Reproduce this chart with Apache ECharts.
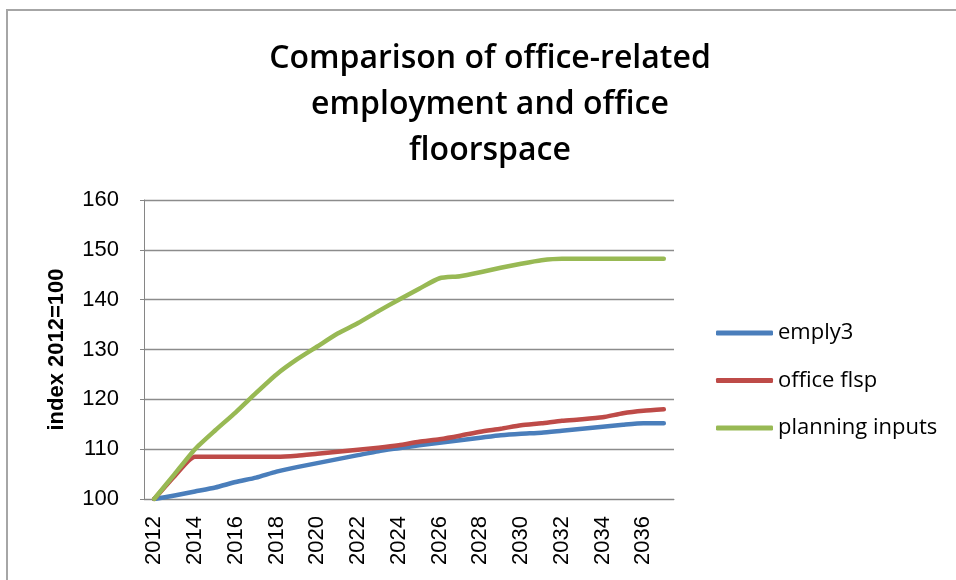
<!DOCTYPE html>
<html>
<head>
<meta charset="utf-8">
<script src="https://cdn.jsdelivr.net/npm/echarts@6/dist/echarts.min.js"></script>
<style>
  html, body { margin: 0; padding: 0; background: #fff; }
  #chart { width: 956px; height: 580px; }
</style>
</head>
<body>
<div id="chart"></div>
<script>
// Years on the category axis
const years = ['2012','2013','2014','2015','2016','2017','2018','2019','2020','2021','2022','2023','2024',
               '2025','2026','2027','2028','2029','2030','2031','2032','2033','2034','2035','2036','2037'];

// Index values (2012 = 100)
const emply3 = [100, 100.7, 101.5, 102.3, 103.4, 104.3, 105.5, 106.4, 107.2, 108.0, 108.8, 109.6, 110.2,
                110.8, 111.3, 111.8, 112.3, 112.8, 113.1, 113.3, 113.7, 114.1, 114.5, 114.9, 115.2, 115.2];
const officeFlsp = [100, 104.6, 108.5, 108.5, 108.5, 108.5, 108.5, 108.7, 109.1, 109.5, 109.9, 110.3, 110.8,
                    111.5, 112.0, 112.7, 113.5, 114.1, 114.8, 115.2, 115.7, 116.0, 116.4, 117.2, 117.7, 118.0];
const planningInputs = [100, 105.0, 110.0, 113.8, 117.4, 121.3, 125.0, 128.0, 130.6, 133.2, 135.3, 137.7, 140.0,
                        142.2, 144.3, 144.7, 145.5, 146.4, 147.2, 147.9, 148.2, 148.2, 148.2, 148.2, 148.2, 148.2];

// Value axis ticks
const yTicks = [100, 110, 120, 130, 140, 150, 160];

const seriesNames = ['emply3', 'office flsp', 'planning inputs'];
const seriesColors = ['#4a7ebb', '#be4b48', '#98b954'];
const seriesData = [emply3, officeFlsp, planningInputs];

const chart = echarts.init(document.getElementById('chart'), null, { renderer: 'canvas' });

chart.setOption({
  backgroundColor: '#ffffff',
  animation: false,
  graphic: [{
    type: 'rect',
    shape: { x: 7, y: 10, width: 1000, height: 700 },
    style: { fill: 'none', stroke: '#a6a6a6', lineWidth: 2 },
    silent: true,
    z: -1
  }],
  title: {
    text: 'Comparison of office-related\nemployment and office\nfloorspace',
    left: 485,
    top: 31,
    textAlign: 'center',
    textStyle: {
      fontFamily: 'Open Sans',
      fontWeight: 600,
      fontSize: 32,
      lineHeight: 46,
      color: '#000'
    }
  },
  legend: {
    orient: 'vertical',
    left: 711,
    top: 317,
    itemWidth: 57,
    itemHeight: 5,
    itemGap: 25.5,
    icon: 'roundRect',
    data: seriesNames,
    textStyle: {
      fontFamily: 'Open Sans',
      fontSize: 22,
      color: '#000'
    }
  },
  grid: {
    left: 144,
    right: 282,
    top: 200,
    bottom: 81,
    containLabel: false
  },
  xAxis: {
    type: 'category',
    data: years,
    boundaryGap: true,
    axisLine: { show: true, lineStyle: { color: '#868686', width: 1 } },
    axisTick: { show: false },
    axisLabel: {
      interval: 1,
      rotate: 90,
      margin: 17,
      fontFamily: 'Liberation Sans',
      fontSize: 22,
      color: '#000'
    },
    splitLine: { show: false }
  },
  yAxis: {
    type: 'value',
    min: yTicks[0],
    max: yTicks[yTicks.length - 1],
    interval: 10,
    name: 'index 2012=100',
    nameLocation: 'middle',
    nameGap: 76,
    nameRotate: 90,
    nameTextStyle: {
      fontFamily: 'Liberation Sans',
      fontWeight: 'bold',
      fontSize: 22,
      color: '#000'
    },
    axisLine: { show: true, lineStyle: { color: '#868686', width: 1 } },
    axisTick: { show: true, length: 4, lineStyle: { color: '#868686' } },
    axisLabel: {
      margin: 25,
      fontFamily: 'Liberation Sans',
      fontSize: 22,
      color: '#000'
    },
    splitLine: { show: true, lineStyle: { color: '#8c8c8c', width: 1.3 } }
  },
  series: seriesNames.map((name, i) => ({
    name: name,
    type: 'line',
    data: seriesData[i],
    showSymbol: false,
    symbol: 'none',
    smooth: 0.2,
    lineStyle: { color: seriesColors[i], width: 4.5, cap: 'round', join: 'round' },
    itemStyle: { color: seriesColors[i] }
  }))
});
</script>
</body>
</html>
